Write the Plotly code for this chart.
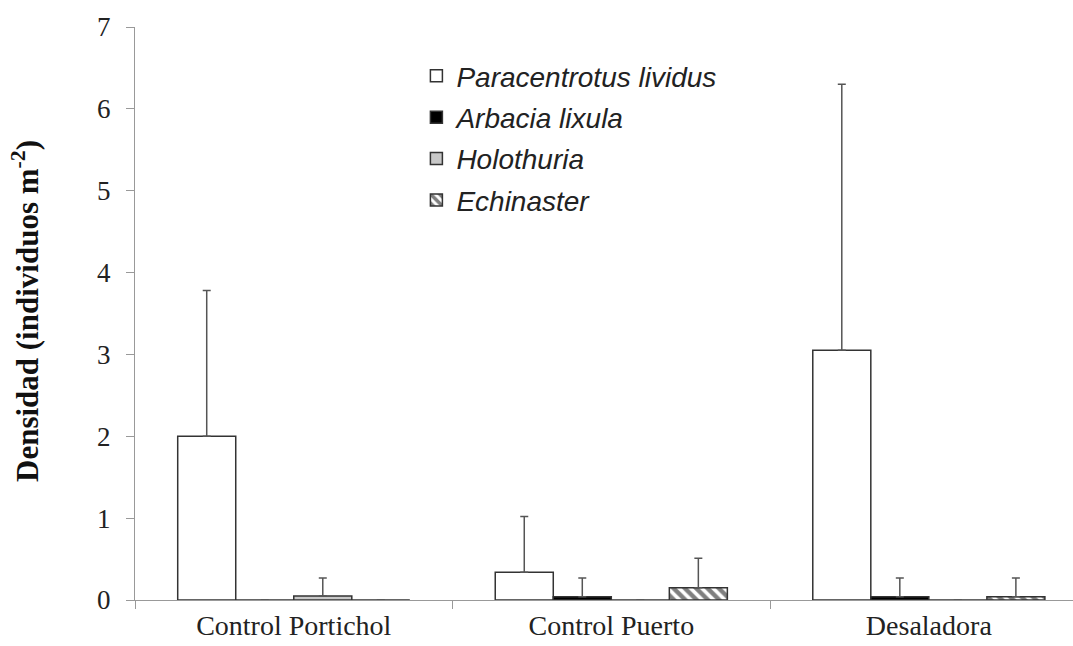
import plotly.graph_objects as go

categories = ["Control Portichol", "Control Puerto", "Desaladora"]
species = ["Paracentrotus lividus", "Arbacia lixula", "Holothuria", "Echinaster"]

paracentrotus = [2.0, 0.34, 3.05]
paracentrotus_err = [1.78, 0.68, 3.25]
arbacia = [0.0, 0.04, 0.04]
arbacia_err = [0.0, 0.23, 0.23]
holothuria = [0.05, 0.0, 0.0]
holothuria_err = [0.22, 0.0, 0.0]
echinaster = [0.0, 0.15, 0.04]
echinaster_err = [0.0, 0.36, 0.23]

y_ticks = [0, 1, 2, 3, 4, 5, 6, 7]

values = [paracentrotus, arbacia, holothuria, echinaster]
errors = [paracentrotus_err, arbacia_err, holothuria_err, echinaster_err]
fills = ["white", "black", "#c8c8c8", "white"]
patterns = [None, None, None, "\\"]

fig = go.Figure()
for i, (name, v, e, fc, pat) in enumerate(zip(species, values, errors, fills, patterns)):
    marker = dict(color=fc, line=dict(color="#333333", width=1.5))
    if pat:
        marker["pattern"] = dict(shape=pat, fgcolor="#000000", bgcolor="white",
                                 size=8, solidity=0.55)
    fig.add_trace(go.Bar(
        x=categories, y=v, name=name, marker=marker, legendgroup=f"g{i}",
        error_y=dict(type="data", array=e, symmetric=False, arrayminus=[0] * len(e),
                     color="#555555", thickness=1.5, width=4),
    ))

fig.update_layout(
    width=1073, height=646,
    margin=dict(l=135, r=0, t=27, b=46),
    paper_bgcolor="white", plot_bgcolor="white",
    barmode="group", bargap=0.269, bargroupgap=0,
    font=dict(family="Liberation Serif, Times New Roman, serif", size=27, color="#222222"),
    showlegend=True,
    legend=dict(
        x=0.3, y=0.958, xanchor="left", yanchor="top",
        font=dict(family="Liberation Sans, Arial, sans-serif", size=28,
                  color="#222222", style="italic"),
        bgcolor="rgba(0,0,0,0)", borderwidth=0, tracegroupgap=2,
    ),
    xaxis=dict(
        type="category", range=[-0.5, 2.454], tickson="boundaries",
        showline=True, linecolor="#999999", linewidth=1,
        ticks="outside", ticklen=8, tickcolor="#999999",
        showgrid=False, zeroline=False, layer="below traces",
        tickfont=dict(family="Liberation Serif, Times New Roman, serif", size=28, color="#222222"),
    ),
    yaxis=dict(
        range=[0, 7], tickvals=y_ticks,
        showline=True, linecolor="#999999", linewidth=1,
        ticks="outside", ticklen=8, tickcolor="#999999",
        ticklabelstandoff=10, layer="below traces",
        showgrid=False, zeroline=False,
        tickfont=dict(family="Liberation Serif, Times New Roman, serif", size=27, color="#222222"),
    ),
    annotations=[dict(
        text="<b>Densidad (individuos m<sup>-2</sup>)</b>",
        xref="paper", yref="paper", x=(25 - 135) / 938, y=(600 - 311) / 573,
        xanchor="center", yanchor="middle", textangle=-90, showarrow=False,
        font=dict(family="Liberation Serif, Times New Roman, serif", size=31, color="#111111"),
    )],
)

fig.write_html("out.html", config={"displayModeBar": False})

with open("out.html", "r", encoding="utf-8") as f:
    html = f.read()
html = html.replace("<head>", "<head><style>html,body{margin:0;padding:0;overflow:hidden;}</style>", 1)
with open("out.html", "w", encoding="utf-8") as f:
    f.write(html)
